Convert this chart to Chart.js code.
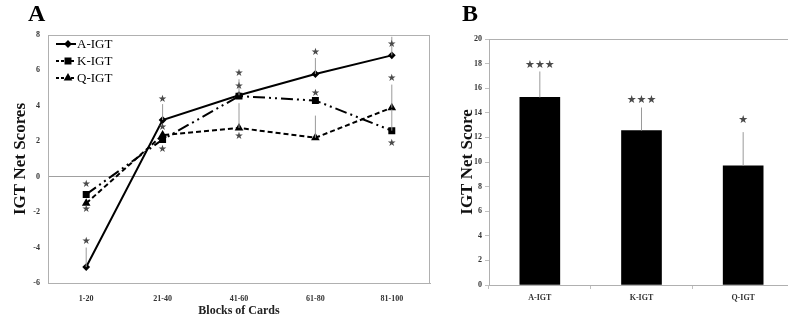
<!DOCTYPE html>
<html lang="en">
<head>
    <meta charset="UTF-8">
    <title>IGT Net Scores</title>
    <script src="https://cdn.jsdelivr.net/npm/chart.js"></script>
    <style>
        body { margin: 0; background: #fff; overflow: hidden; }
        #wrapA { position: absolute; left: 0; top: 0; width: 440px; height: 323px; }
        #wrapB { position: absolute; left: 440px; top: 0; width: 360px; height: 323px; }
    </style>
</head>
<body>
    <div id="wrapA"><canvas id="chartA" width="440" height="323"></canvas></div>
    <div id="wrapB"><canvas id="chartB" width="360" height="323"></canvas></div>

    <script>
        // panel A data
        const blocks = ['1-20', '21-40', '41-60', '61-80', '81-100'];
        const aIgt = [-5.1, 3.2, 4.6, 5.8, 6.85];
        const kIgt = [-1.0, 2.1, 4.55, 4.3, 2.6];
        const qIgt = [-1.5, 2.35, 2.75, 2.2, 3.9];
        // upper ends of the error bars (null = none drawn)
        const aErrUp = [-4.0, 4.1, 5.5, 6.7, 7.9];
        const kErrUp = [null, null, null, null, 3.8];
        const qErrUp = [null, null, 4.15, 3.45, 5.2];
        // where the significance stars sit
        const aStar = [-3.65, 4.39, 5.86, 7.04, 7.46];
        const kStar = [-0.45, 1.53, 5.07, 4.73, 1.87];
        const qStar = [-1.86, 2.79, 2.28, null, 5.54];

        // panel B data
        const groups = ['A-IGT', 'K-IGT', 'Q-IGT'];
        const totals = [15.25, 12.56, 9.69];
        const totalErrUp = [17.36, 14.43, 12.43];
        const totalStars = [3, 3, 1];
        const totalStarAt = [17.85, 15.06, 13.37];

        const serif = 'Liberation Serif';
        const tickFont = { family: serif, size: 8, weight: 'bold' };

        // error bars + stars, drawn through the chart's scales
        const marksPlugin = {
            id: 'marks',
            afterDatasetsDraw(chart) {
                const ctx = chart.ctx, xs = chart.scales.x, ys = chart.scales.y;
                ctx.save();
                chart.data.datasets.forEach(ds => {
                    (ds.errUp || []).forEach((v, i) => {
                        if (v == null) return;
                        const x = xs.getPixelForValue(i);
                        ctx.strokeStyle = '#9a9a9a';
                        ctx.lineWidth = 1;
                        ctx.beginPath();
                        ctx.moveTo(x, ys.getPixelForValue(ds.data[i]));
                        ctx.lineTo(x, ys.getPixelForValue(v));
                        ctx.stroke();
                    });
                });
                ctx.restore();
            },
            afterDraw(chart) {
                const ctx = chart.ctx, xs = chart.scales.x, ys = chart.scales.y;
                ctx.save();
                ctx.fillStyle = '#4a4a4a';
                ctx.textAlign = 'center';
                ctx.textBaseline = 'middle';
                chart.data.datasets.forEach(ds => {
                    const n = ds.starCount || [];
                    ctx.font = (ds.starSize || 10) + 'px DejaVu Sans';
                    (ds.stars || []).forEach((v, i) => {
                        if (v == null) return;
                        ctx.fillText('\u2605'.repeat(n[i] || 1), xs.getPixelForValue(i), ys.getPixelForValue(v));
                    });
                });
                ctx.restore();
            }
        };

        // plot frame + panel letter
        const framePlugin = {
            id: 'frame',
            beforeDatasetsDraw(chart, args, opts) {
                const a = chart.chartArea, ctx = chart.ctx;
                ctx.save();
                ctx.strokeStyle = '#b0b0b0';
                ctx.lineWidth = 1;
                ctx.beginPath();
                ctx.moveTo(a.left, a.top + 0.5);
                ctx.lineTo(a.right, a.top + 0.5);
                if (opts.right) {
                    ctx.moveTo(a.right - 0.5, a.top);
                    ctx.lineTo(a.right - 0.5, a.bottom);
                }
                ctx.stroke();
                ctx.fillStyle = '#000';
                ctx.font = 'bold 24px ' + serif;
                ctx.textBaseline = 'middle';
                ctx.fillText(opts.letter, opts.lx, opts.ly);
                ctx.restore();
            }
        };

        // legend drawn inside the plot, top-left
        const legendPlugin = {
            id: 'innerLegend',
            afterDraw(chart) {
                const ctx = chart.ctx, a = chart.chartArea;
                ctx.save();
                chart.data.datasets.forEach((ds, i) => {
                    const x = a.left + 8, y = a.top + 9 + i * 17;
                    ctx.strokeStyle = '#000';
                    ctx.lineWidth = 2;
                    ctx.setLineDash(ds.borderDash ? [3, 2] : []);
                    ctx.beginPath();
                    ctx.moveTo(x, y);
                    ctx.lineTo(x + 20, y);
                    ctx.stroke();
                    ctx.setLineDash([]);
                    ctx.fillStyle = '#000';
                    Chart.helpers.drawPoint(ctx, { pointStyle: ds.pointStyle, radius: ds.pointRadius, rotation: 0, borderWidth: 1 }, x + 12, y);
                    ctx.font = '13px ' + serif;
                    ctx.textBaseline = 'middle';
                    ctx.fillText(ds.label, x + 21, y + 1);
                });
                ctx.restore();
            }
        };

        new Chart(document.getElementById('chartA'), {
            type: 'line',
            data: {
                labels: blocks,
                datasets: [
                    { label: 'A-IGT', data: aIgt, errUp: aErrUp, stars: aStar, borderColor: '#000', backgroundColor: '#000', borderWidth: 2, pointStyle: 'rectRot', pointRadius: 2.5 },
                    { label: 'K-IGT', data: kIgt, errUp: kErrUp, stars: kStar, borderColor: '#000', backgroundColor: '#000', borderWidth: 2, borderDash: [12, 4, 2, 4, 2, 4], pointStyle: 'rect', pointRadius: 3.5 },
                    { label: 'Q-IGT', data: qIgt, errUp: qErrUp, stars: qStar, borderColor: '#000', backgroundColor: '#000', borderWidth: 2, borderDash: [5, 3], pointStyle: 'triangle', pointRadius: 3 }
                ]
            },
            options: {
                responsive: false,
                animation: false,
                layout: { padding: { left: 0, top: 35, right: 10, bottom: 0 } },
                plugins: {
                    legend: { display: false },
                    tooltip: { enabled: false },
                    frame: { letter: 'A', lx: 28, ly: 15, right: true }
                },
                scales: {
                    x: {
                        offset: true,
                        grid: { display: false },
                        border: { color: '#b0b0b0' },
                        ticks: { font: tickFont, color: '#333', padding: 3 },
                        title: { display: true, text: 'Blocks of Cards', font: { family: serif, size: 12, weight: 'bold' }, color: '#222', padding: { top: 0, bottom: 5 } },
                        afterFit: s => { s.height = 40; }
                    },
                    y: {
                        min: -6, max: 8,
                        ticks: { stepSize: 2, font: tickFont, color: '#333', padding: 8 },
                        grid: { drawTicks: false, color: c => c.tick && c.tick.value === 0 ? '#a0a0a0' : 'rgba(0,0,0,0)' },
                        border: { color: '#b0b0b0' },
                        title: { display: true, text: 'IGT Net Scores', font: { family: serif, size: 17, weight: 'bold' }, color: '#111', padding: { top: 10, bottom: 0 } },
                        afterFit: s => { s.width = 48; }
                    }
                }
            },
            plugins: [framePlugin, marksPlugin, legendPlugin]
        });

        new Chart(document.getElementById('chartB'), {
            type: 'bar',
            data: {
                labels: groups,
                datasets: [
                    { label: 'IGT Net Score', data: totals, errUp: totalErrUp, stars: totalStarAt, starCount: totalStars, starSize: 11, backgroundColor: '#000', barThickness: 40 }
                ]
            },
            options: {
                responsive: false,
                animation: false,
                layout: { padding: { left: 0, top: 39, right: 6, bottom: 0 } },
                plugins: {
                    legend: { display: false },
                    tooltip: { enabled: false },
                    frame: { letter: 'B', lx: 22, ly: 15, right: false }
                },
                scales: {
                    x: {
                        grid: { drawOnChartArea: false, tickLength: 4, color: '#c0c0c0' },
                        border: { color: '#b0b0b0' },
                        ticks: { font: tickFont, color: '#333', padding: 4 },
                        afterFit: s => { s.height = 38; }
                    },
                    y: {
                        min: 0, max: 20,
                        ticks: { stepSize: 2, font: tickFont, color: '#333', padding: 3 },
                        grid: { drawOnChartArea: false, tickLength: 4, color: '#c0c0c0' },
                        border: { color: '#b0b0b0' },
                        title: { display: true, text: 'IGT Net Score', font: { family: serif, size: 17, weight: 'bold' }, color: '#111', padding: { top: 17, bottom: 0 } },
                        afterFit: s => { s.width = 49; }
                    }
                }
            },
            plugins: [framePlugin, marksPlugin]
        });
    </script>
</body>
</html>
